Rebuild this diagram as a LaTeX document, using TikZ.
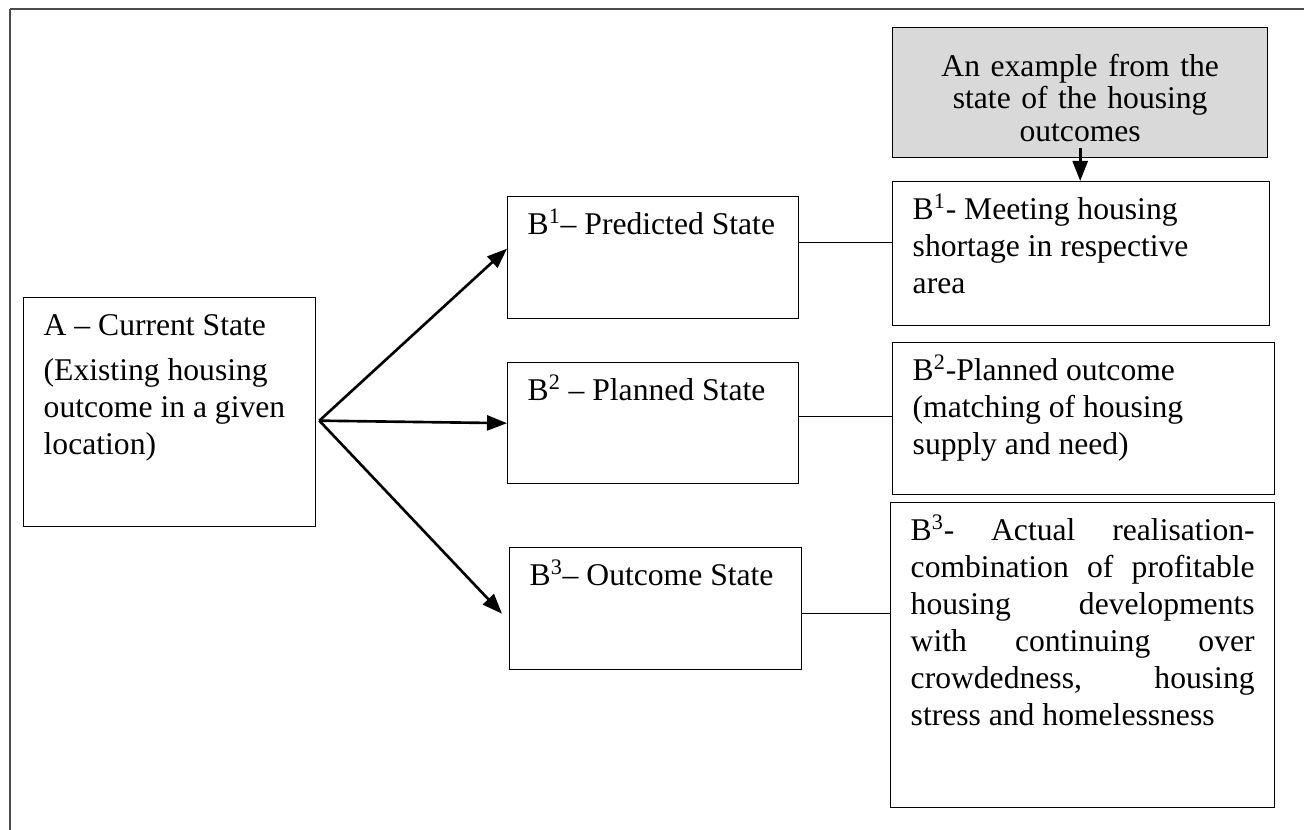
\documentclass[tikz,border=0pt]{standalone}
\usepackage{fontspec}
\setmainfont{Liberation Serif}
\usetikzlibrary{arrows.meta}
\definecolor{boxgray}{RGB}{217,217,217}

\begin{document}
\begin{tikzpicture}[x=0.02cm,y=-0.02cm,line width=0.6pt]
  \tikzstyle{box}=[draw,line width=0.8pt,anchor=north west,inner xsep=0.4cm,inner ysep=0.24cm,font=\fontsize{18pt}{21pt}\selectfont]
  \tikzstyle{arr}=[line width=1.5pt,-{Triangle[length=0.4cm,width=0.3cm]}]
  \useasboundingbox (0,0) rectangle (1304,830);
  \draw[gray!60!black,line width=1.3pt] (10,9) -- (1304,9);
  \draw[gray!60!black,line width=0.8pt] (10,9) -- (10,830);

  \node[box] (S_A) at (23,297) {\parbox[t][4.1cm][t]{5.04cm}{\strut A -- Current State\\[0.16cm] (Existing housing\\ outcome in a given\\ location)}};
  \node[box] (S_1) at (507,196) {\parbox[t][1.96cm][t]{5.02cm}{\strut B\textsuperscript{1}-- Predicted State}};
  \node[box] (S_2) at (507,362) {\parbox[t][1.94cm][t]{5.02cm}{\strut B\textsuperscript{2} -- Planned State}};
  \node[box] (S_3) at (509,547) {\parbox[t][1.96cm][t]{5.04cm}{\strut B\textsuperscript{3}-- Outcome State}};

  \node[box,fill=boxgray,text width=6.7cm,align=center,inner ysep=0pt,minimum height=2.6cm,font=\fontsize{18pt}{18.5pt}\selectfont] (E) at (892,27) {\rule{0pt}{0.65cm}An example from the\\ state of the housing\\ outcomes};
  \node[box] (O_1) at (892,181) {\parbox[t][2.4cm][t]{6.74cm}{\strut B\textsuperscript{1}- Meeting housing\\ shortage in respective\\ area}};
  \node[box] (O_2) at (892,342) {\parbox[t][2.56cm][t]{6.84cm}{\strut B\textsuperscript{2}-Planned outcome\\ (matching of housing\\ supply and need)}};
  \node[box] (O_3) at (890,502) {\parbox[t][5.62cm][t]{6.88cm}{\tolerance=10000\hyphenpenalty=10000\strut B\textsuperscript{3}- Actual realisation-\linebreak combination of profitable\linebreak housing developments\linebreak with continuing over\linebreak crowdedness, housing\linebreak stress and homelessness}};

  \coordinate (fork) at ([xshift=0.06cm,yshift=-0.17cm]S_A.east);
  \draw[arr] (fork) -- ([yshift=0.18cm]S_1.west);
  \draw[arr] (fork) -- (S_2.west);
  \draw[arr] (fork) -- ([xshift=-0.14cm,yshift=-0.1cm]S_3.west);
  \draw[arr] ([yshift=0.2cm]E.south) -- (E.south |- O_1.north);

  \coordinate (c_1) at ([yshift=0.3cm]S_1.east);
  \coordinate (c_2) at ([yshift=0.13cm]S_2.east);
  \coordinate (c_3) at ([yshift=-0.1cm]S_3.east);
  \draw (c_1) -- (c_1 -| O_1.west);
  \draw (c_2) -- (c_2 -| O_2.west);
  \draw (c_3) -- (c_3 -| O_3.west);
\end{tikzpicture}
\end{document}
